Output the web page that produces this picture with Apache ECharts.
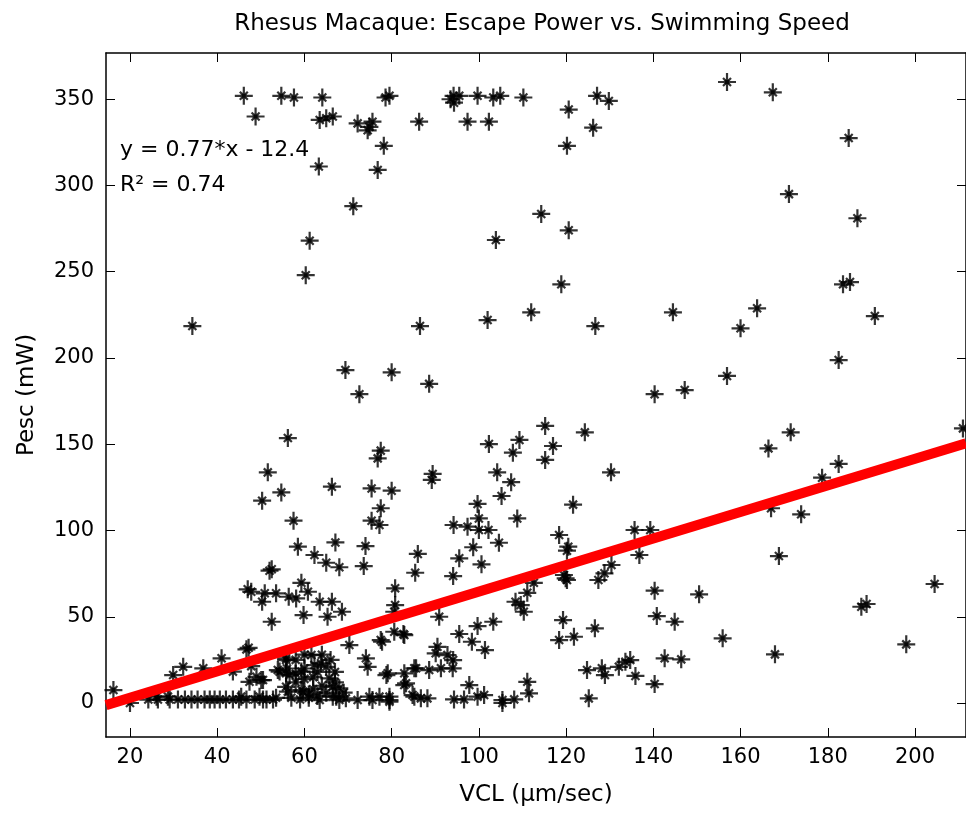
<!DOCTYPE html>
<html>
<head>
<meta charset="utf-8">
<script src="https://cdn.jsdelivr.net/npm/echarts@6/dist/echarts.min.js"></script>
<style>
  html, body { margin: 0; padding: 0; background: #fff; }
  #chart { width: 966px; height: 814px; }
</style>
</head>
<body>
<div id="chart"></div>
<script>
// Axis tick values
const xTicks = [20, 40, 60, 80, 100, 120, 140, 160, 180, 200];
const yTicks = [0, 50, 100, 150, 200, 250, 300, 350];

// Linear fit of Pesc against VCL
const slope = 0.77;
const intercept = -12.4;
const rSquared = 0.74;

// Observations [VCL (µm/sec), Pesc (mW)]
const highPower = [
  [46.1, 352], [48.8, 340], [54.7, 352], [57.6, 351], [64.1, 351], [63.5, 338], [65, 339],
  [66.5, 340], [72.2, 336], [74.9, 334], [75.6, 337], [74.5, 332], [78.6, 351], [79.5, 352],
  [78.2, 323], [76.8, 309], [63.3, 311], [71.2, 288], [61.2, 268], [60.3, 248], [34.3, 218.5],
  [86.3, 337], [93.5, 350], [94.3, 348], [95.5, 352], [94.2, 352], [99.7, 352], [103.3, 351],
  [104.9, 352], [110.2, 351], [97.4, 337], [102.3, 337], [120.6, 344], [127.1, 352], [129.8, 349],
  [126.2, 333.5], [120.2, 323], [114.3, 283.5], [120.6, 274], [103.9, 268.4], [118.9, 242.7],
  [156.9, 360], [167.4, 354], [184.8, 327.5], [171.1, 295], [186.8, 281], [183.5, 242.7],
  [185.1, 244], [86.5, 218.5], [102, 222], [112, 226.5], [126.7, 218.5], [144.5, 226.5],
  [163.8, 228.8], [160, 217.2], [190.8, 224.3]
];

const midPower = [
  [69.4, 193], [80, 191.7], [72.6, 179], [88.6, 185], [140.3, 179], [147.2, 181.4], [156.9, 189.6],
  [182.5, 198.8], [56.2, 153.6], [77.5, 146.3], [76.8, 141.8], [51.6, 133.7], [54.7, 122.1],
  [50.3, 117.3], [66.3, 125.4], [75.4, 124.4], [80, 123.1], [77.5, 112.9], [75.4, 105.7],
  [77.2, 103.2], [57.5, 105.7], [67.1, 93.1], [74, 91], [58.5, 90.6], [62.3, 85.8],
  [115.2, 160.6], [124.3, 156.9], [102.3, 150.1], [109.3, 152.5], [107.8, 145.1], [117, 149],
  [115.2, 140.9], [130.3, 133.7], [89.4, 132.8], [89.2, 129.3], [104.2, 133.7], [107.4, 128],
  [105.2, 120], [99.7, 115.4], [121.6, 115], [108.8, 107], [100, 107], [94.2, 103.2],
  [97.4, 102.2], [100, 100.3], [102.2, 100.3], [104.6, 92.9], [98.7, 90.3], [118.4, 97.4],
  [120.5, 90.6], [135.7, 100.3], [139.3, 100.3], [86, 86.4], [171.5, 156.9], [166.4, 147.6],
  [182.5, 138.6], [178.7, 130.6], [167, 112.9], [173.9, 109.4], [211, 159.2], [168.8, 85.2],
  [65, 81.3], [68, 78.7], [73.6, 79.4], [52, 76.7], [52.5, 77.5], [47, 65.9], [47.8, 64.5],
  [50.9, 63.6], [50.3, 58.7], [53.5, 63.6], [56.4, 61.6], [59.3, 69.7], [60.8, 64.5],
  [58.1, 60.6], [63.5, 58.7], [66.3, 58.7], [59.8, 51], [65.3, 50], [68.6, 52.9], [52.5, 47.1],
  [80.8, 66.5], [80.8, 56.8], [95.5, 83.9], [85.4, 75.5], [94.1, 73.6], [100.6, 80.4],
  [120.2, 88.3], [119.5, 74.2], [119.9, 72.3], [120.2, 71.3], [112.6, 69.7], [111.1, 63.9],
  [108.4, 58.7], [109.6, 56.8], [110.3, 52.9], [127.4, 71.3], [128.8, 75.2], [130.4, 80],
  [136.8, 85.8], [140.3, 65.1], [140.8, 50.4], [144.9, 47.1], [150.5, 63], [80.6, 52.9],
  [90.9, 50], [187.7, 55.8], [188.9, 57.4], [204.5, 69]
];

const lowPower = [
  [119.3, 48.1], [118.4, 36.5], [121.8, 38.4], [126.6, 43.3], [80.6, 41.3], [82.9, 39.4],
  [77.8, 35.5], [99.7, 44.6], [103.3, 47.1], [95.5, 40], [98.4, 35.5], [101.4, 30.7],
  [90.5, 32.6], [90.1, 28.8], [92.8, 27.8], [94.1, 24.9], [79.1, 17.2], [82.9, 17.2],
  [85.6, 20.1], [88.6, 19.1], [91.3, 20.1], [94, 20.1], [82.9, 10.4], [84.8, 4.6], [86.7, 2.7],
  [88.2, 2.7], [79.5, 3.7], [79.5, 0.8], [97.8, 10.4], [94.3, 2.1], [96.6, 2.1], [99.7, 3.7],
  [101.2, 4.6], [105.4, 1.7], [105.4, 0], [108.1, 2.1], [111.1, 12.3], [111.5, 5.6],
  [125.2, 2.7], [124.8, 19.1], [128.2, 20.1], [128.9, 16.2], [132.1, 21], [133.6, 23.9],
  [134.7, 24.9], [135.9, 15.7], [140.3, 11], [142.6, 25.9], [146.4, 25.3], [155.9, 37.5],
  [167.9, 28.2], [198, 34], [70.3, 33.6], [74.1, 25.9], [74.5, 21], [78.8, 16.2], [46.7, 31.1],
  [47.2, 32], [55.8, 25.9], [59.3, 18.2], [61.6, 27.8], [62.3, 22], [63.8, 23], [65, 21],
  [54.3, 18.2], [55.8, 17.2], [49, 15.2], [50.5, 13.3], [47.8, 21.4], [43.6, 18.2], [41, 25.9],
  [32.2, 21], [29.9, 16.2], [36.8, 20.1], [16.2, 7.5], [20, 0], [24.2, 2], [26.4, 2], [29.1, 2],
  [32.6, 2], [34.1, 2], [37.1, 2], [38.3, 2], [39.4, 2], [40.6, 2], [43.6, 2], [46.7, 2],
  [48.6, 2], [50.5, 2], [51.3, 2], [52.8, 2], [56.2, 6.6], [59.7, 6.6], [63.5, 1.7], [66.5, 3.7],
  [68, 1.7], [69.5, 2.7], [66.5, 9.4], [68, 8.5], [72.2, 1.7], [75.6, 1.7], [79.5, 1.7],
  [65.7, 14.3], [82.7, 40], [77.5, 36.5], [85.2, 20.1], [83.3, 11.4], [67.3, 3.7], [74.9, 3.7],
  [77.2, 3.7], [85.2, 3.7], [59.3, 7.5], [53.9, 19.1], [55.8, 24.9], [56.6, 16.2], [55.8, 9.4],
  [47.4, 12.3], [50.1, 13.3], [45.5, 3.7], [49.7, 3.7], [26.1, 3.7], [28.7, 3.7], [58, 12],
  [60, 28], [62, 15], [64, 10], [66, 25], [58, 25], [61, 5], [64, 28], [67, 18], [60, 20],
  [57, 3], [59, 2], [61, 3], [62, 8], [63, 4], [65, 6], [67, 12], [69, 6], [60, 14], [63, 18],
  [56, 20], [58, 17], [31, 2], [35.5, 2], [42, 2], [45, 2], [53.5, 3]
];

const xMin = 14.5, xMax = 211.7;
const yMin = -19.7, yMax = 376.8;

const FONT = "'DejaVu Sans', 'Liberation Sans', sans-serif";
const textColor = '#000';

// Asterisk marker: plus arms, short diagonal arms and a solid centre
const asterisk = 'path://M-9,0L9,0M0,-9L0,9M-4,-4L4,4M-4,4L4,-4M-2,-2L2,-2L2,2L-2,2Z';

const fitLine = [
  [xMin, slope * xMin + intercept],
  [xMax, slope * xMax + intercept]
];

const boxAxisLine = { show: true, onZero: false, lineStyle: { color: '#000', width: 1.5 } };
const tickStyle = { color: '#000', width: 1 };

const chart = echarts.init(document.getElementById('chart'), null, { renderer: 'canvas' });

chart.setOption({
  animation: false,
  backgroundColor: '#fff',
  title: {
    text: 'Rhesus Macaque: Escape Power vs. Swimming Speed',
    left: 537,
    textAlign: 'center',
    top: 8,
    textStyle: { fontFamily: FONT, fontSize: 23, fontWeight: 'normal', color: textColor }
  },
  grid: { left: 106, top: 53, width: 862, height: 684, containLabel: false },
  xAxis: [
    {
      type: 'value', position: 'bottom', min: xMin, max: xMax,
      axisLine: boxAxisLine,
      axisTick: { show: true, inside: true, length: 9, customValues: xTicks, lineStyle: tickStyle },
      axisLabel: { customValues: xTicks, margin: 10, fontFamily: FONT, fontSize: 21, color: textColor },
      splitLine: { show: false },
      name: 'VCL (µm/sec)', nameLocation: 'middle', nameGap: 47,
      nameTextStyle: { fontFamily: FONT, fontSize: 23, color: textColor }
    },
    {
      type: 'value', position: 'top', min: xMin, max: xMax,
      axisLine: boxAxisLine,
      axisTick: { show: true, inside: true, length: 9, customValues: xTicks, lineStyle: tickStyle },
      axisLabel: { show: false },
      splitLine: { show: false }
    }
  ],
  yAxis: [
    {
      type: 'value', position: 'left', min: yMin, max: yMax,
      axisLine: boxAxisLine,
      axisTick: { show: true, inside: true, length: 9, customValues: yTicks, lineStyle: tickStyle },
      axisLabel: { customValues: yTicks, margin: 12, fontFamily: FONT, fontSize: 21, color: textColor },
      splitLine: { show: false },
      name: 'Pesc (mW)', nameLocation: 'middle', nameGap: 67, nameRotate: 90,
      nameTextStyle: { fontFamily: FONT, fontSize: 23, color: textColor }
    },
    {
      type: 'value', position: 'right', min: yMin, max: yMax,
      axisLine: boxAxisLine,
      axisTick: { show: true, inside: true, length: 9, customValues: yTicks, lineStyle: tickStyle },
      axisLabel: { show: false },
      splitLine: { show: false }
    }
  ],
  graphic: [
    {
      type: 'text', left: 120, top: 139, z: 10,
      style: {
        text: 'y = ' + slope + '*x - ' + Math.abs(intercept),
        font: '22px ' + FONT, fill: textColor
      }
    },
    {
      type: 'text', left: 120, top: 174, z: 10,
      style: {
        text: 'R\u00B2 = ' + rSquared,
        font: '22px ' + FONT, fill: textColor
      }
    }
  ],
  series: [
    {
      name: 'Pesc', type: 'scatter', xAxisIndex: 0, yAxisIndex: 0,
      data: highPower.concat(midPower, lowPower),
      symbol: asterisk, symbolSize: 18,
      itemStyle: { color: '#000', borderColor: '#000', borderWidth: 2.2 },
      emphasis: { disabled: true },
      z: 2
    },
    {
      name: 'Fit', type: 'line', xAxisIndex: 0, yAxisIndex: 0,
      data: fitLine, showSymbol: false, symbol: 'none',
      lineStyle: { color: '#ff0000', width: 10, cap: 'butt' },
      emphasis: { disabled: true },
      z: 3
    }
  ]
});
</script>
</body>
</html>
